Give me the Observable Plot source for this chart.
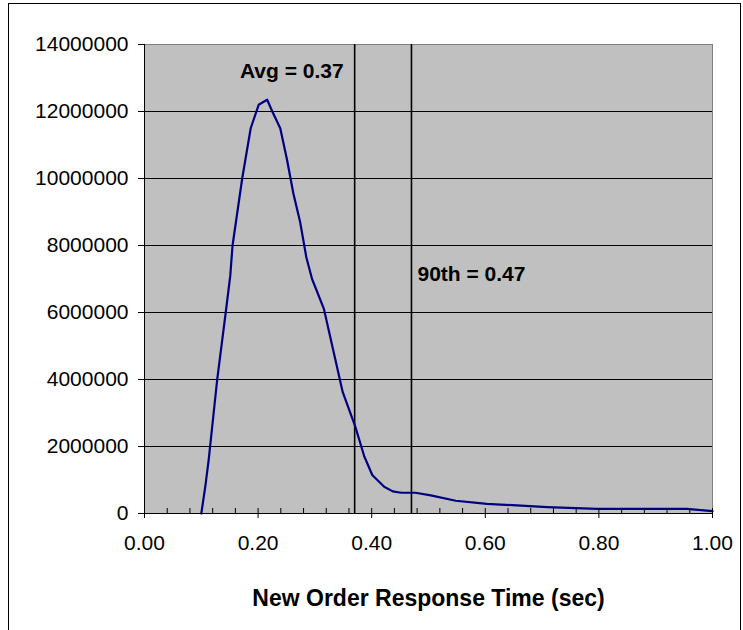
<!DOCTYPE html>
<html>
<head>
<meta charset="utf-8">
<script src="https://cdn.jsdelivr.net/npm/d3@7"></script>
<script src="https://cdn.jsdelivr.net/npm/@observablehq/plot@0.6"></script>
<style>
  html, body { margin: 0; padding: 0; background: #fff; }
  #wrap { position: relative; width: 743px; height: 630px; overflow: hidden; }
  #frame { position: absolute; left: 8px; top: 3px; width: 733px; height: 640px;
           border-left: 1px solid #000; border-top: 1px solid #000; border-right: 1px solid #000; box-sizing: border-box; }
  svg { position: absolute; left: 0; top: 0; font-family: "Liberation Sans", Arial, sans-serif; }
</style>
</head>
<body>
<div id="wrap"><div id="frame"></div></div>
<script>
// Response time (sec)
const times = [0.100, 0.107, 0.113, 0.128, 0.143, 0.151, 0.155, 0.172, 0.187, 0.201, 0.216, 0.225, 0.239, 0.251, 0.262, 0.274, 0.285, 0.295, 0.316, 0.349, 0.371, 0.387, 0.401, 0.422, 0.437, 0.452, 0.477, 0.504, 0.548, 0.603, 0.709, 0.797, 0.955, 1.000];
// Transaction counts
const counts = [0, 800000, 1600000, 4000000, 6000000, 7100000, 8000000, 10000000, 11500000, 12200000, 12350000, 12000000, 11500000, 10550000, 9560000, 8700000, 7640000, 7000000, 6100000, 3620000, 2600000, 1700000, 1150000, 800000, 660000, 620000, 620000, 540000, 380000, 290000, 190000, 140000, 140000, 70000];

const xTicks = [0, 0.2, 0.4, 0.6, 0.8, 1.0];
const xMinorTicks = [0.04, 0.08, 0.12, 0.16, 0.24, 0.28, 0.32, 0.36, 0.44, 0.48, 0.52, 0.56, 0.64, 0.68, 0.72, 0.76, 0.84, 0.88, 0.92, 0.96];
const yTicks = [0, 2000000, 4000000, 6000000, 8000000, 10000000, 12000000, 14000000];
const yGrid = [2000000, 4000000, 6000000, 8000000, 10000000, 12000000];

const markerValues = [0.37, 0.47];
const markerLabels = ["Avg = 0.37", "90th = 0.47"];
const markerLabelY = [13000000, 6950000];
const xTitle = "New Order Response Time (sec)";

const data = times.map((t, i) => ({t, n: counts[i]}));
const labels = markerValues.map((v, i) => ({x: v, y: markerLabelY[i], text: markerLabels[i], anchor: i === 0 ? "end" : "start"}));

const chart = Plot.plot({
  width: 743,
  height: 630,
  marginLeft: 144,
  marginRight: 31,
  marginTop: 44,
  marginBottom: 117,
  style: {fontFamily: "'Liberation Sans', Arial, sans-serif", fontSize: "21px", color: "#000", background: "transparent"},
  x: {domain: [0, 1]},
  y: {domain: [0, 14000000]},
  marks: [
    Plot.frame({fill: "#c0c0c0", stroke: "#808080"}),
    Plot.gridY(yGrid, {stroke: "#000", strokeOpacity: 1, strokeWidth: 1}),
    Plot.ruleX(markerValues, {stroke: "#000", strokeWidth: 1.6}),
    Plot.line(data, {x: "t", y: "n", stroke: "#000080", strokeWidth: 2.2}),
    Plot.ruleY([0], {stroke: "#000", strokeWidth: 1}),
    Plot.ruleX([0], {stroke: "#000", strokeWidth: 1}),
    Plot.axisY(yTicks, {tickSize: 6, tickPadding: 10, tickFormat: d3.format("d"), label: null, fontSize: 21}),
    Plot.axisX(xTicks, {tickSize: 5, tickPadding: 17, tickFormat: d3.format(".2f"), label: null, fontSize: 21}),
    Plot.axisX(xTicks, {tickSize: -5, tickFormat: () => "", label: null}),
    Plot.axisX(xMinorTicks, {tickSize: -5, tickFormat: () => "", label: null}),
    Plot.text(labels.filter(d => d.anchor === "end"), {x: "x", y: "y", text: "text", textAnchor: "end", lineAnchor: "bottom", dx: -11, fontWeight: "bold", fontSize: 21}),
    Plot.text(labels.filter(d => d.anchor === "start"), {x: "x", y: "y", text: "text", textAnchor: "start", lineAnchor: "bottom", dx: 6, fontWeight: "bold", fontSize: 21}),
    Plot.text([xTitle], {frameAnchor: "bottom", text: d => d, lineAnchor: "bottom", dy: 92, fontWeight: "bold", fontSize: 23})
  ]
});
document.getElementById("wrap").insertBefore(chart, document.getElementById("frame"));
</script>
</body>
</html>
